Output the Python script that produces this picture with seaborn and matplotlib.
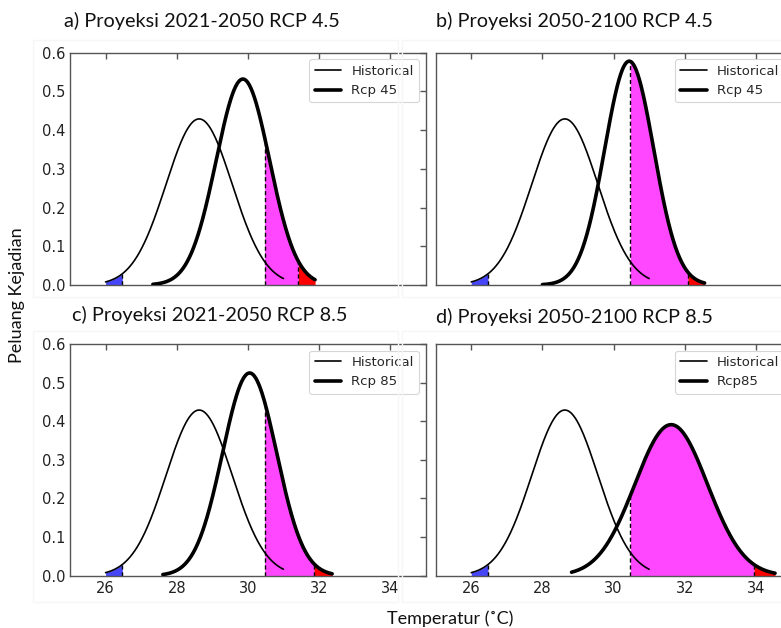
import numpy as np
import pandas as pd
import matplotlib
matplotlib.use("Agg")
import matplotlib.pyplot as plt
from matplotlib.ticker import FormatStrFormatter
from matplotlib.patches import Rectangle
import seaborn as sns

# ---------------- data ----------------
panel_titles = ["a) Proyeksi 2021-2050 RCP 4.5", "b) Proyeksi 2050-2100 RCP 4.5",
                "c) Proyeksi 2021-2050 RCP 8.5", "d) Proyeksi 2050-2100 RCP 8.5"]
proj_labels = ["Rcp 45", "Rcp 45", "Rcp 85", "Rcp85"]
hist_label = "Historical"

hist_mean = 28.63
hist_sd = 0.93
hist_start = 26.0
hist_end = 31.0
cold_limit = 26.47
hot_threshold = 30.47

proj_mean = [29.86, 30.44, 30.05, 31.62]
proj_sd = [0.75, 0.69, 0.76, 1.02]
proj_start = [27.33, 28.0, 27.61, 28.82]
proj_end = [31.89, 32.56, 32.37, 34.54]
extreme_start = [31.42, 32.09, 31.86, 33.95]

x_ticks = [26, 28, 30, 32, 34]
y_ticks = [0.0, 0.1, 0.2, 0.3, 0.4, 0.5, 0.6]
x_label = "Temperatur (\u02daC)"
y_label = "Peluang Kejadian"

# ---------------- style ----------------
sns.set_style("white")
plt.rcParams["font.family"] = ["DejaVu Sans"]
TXT = ["Lato", "DejaVu Sans"]

W, H = 781, 628
fig = plt.figure(figsize=(W / 100, H / 100), dpi=100)


def px_axes(l, t, r, b):
    return fig.add_axes([l / W, 1 - b / H, (r - l) / W, (b - t) / H])


def pdf(x, m, s):
    return np.exp(-0.5 * ((x - m) / s) ** 2) / (s * np.sqrt(2 * np.pi))


# faint frames of the pasted images
for (l, t, r, b) in [(33, 40, 398, 297), (402, 40, 790, 297),
                     (33, 331, 398, 602), (402, 331, 790, 602)]:
    fig.patches.append(Rectangle((l / W, 1 - b / H), (r - l) / W, (b - t) / H,
                                 transform=fig.transFigure, fill=False,
                                 edgecolor="#f6f6f6", lw=1, zorder=0))

boxes = [(70, 52.7, 425.7, 285), (435.7, 52.7, 791.4, 285),
         (70, 344, 425.7, 575.7), (435.7, 344, 791.4, 575.7)]
title_pos = [(64, 26.7), (435.7, 26.7), (72, 320.7), (435.7, 322.7)]

BLUE = "#4646f8"
MAGENTA = "#ff47ff"
RED = "#ff0000"

for i in range(4):
    ax = px_axes(*boxes[i])
    xh = np.linspace(hist_start, hist_end, 300)
    xp = np.linspace(proj_start[i], proj_end[i], 300)
    dh = pd.DataFrame({"x": xh, "y": pdf(xh, hist_mean, hist_sd)})
    dp = pd.DataFrame({"x": xp, "y": pdf(xp, proj_mean[i], proj_sd[i])})

    # fills
    xb = np.linspace(hist_start, cold_limit, 50)
    ax.fill_between(xb, 0, pdf(xb, hist_mean, hist_sd), color=BLUE, lw=0, zorder=1)
    xm = np.linspace(hot_threshold, extreme_start[i], 200)
    ax.fill_between(xm, 0, pdf(xm, proj_mean[i], proj_sd[i]), color=MAGENTA, lw=0, zorder=1)
    xr = np.linspace(extreme_start[i], proj_end[i], 80)
    ax.fill_between(xr, 0, pdf(xr, proj_mean[i], proj_sd[i]), color=RED, lw=0, zorder=1)

    # dashed boundaries
    for xv, yv in [(cold_limit, pdf(cold_limit, hist_mean, hist_sd)),
                   (hot_threshold, pdf(hot_threshold, proj_mean[i], proj_sd[i])),
                   (extreme_start[i], pdf(extreme_start[i], proj_mean[i], proj_sd[i]))]:
        ax.vlines(xv, 0, yv, colors="k", linestyles=(0, (3, 2)), lw=1.0, zorder=2)

    sns.lineplot(data=dh, x="x", y="y", ax=ax, color="k", lw=1.2,
                 label=hist_label, zorder=3, sort=False)
    sns.lineplot(data=dp, x="x", y="y", ax=ax, color="k", lw=2.6,
                 label=proj_labels[i], zorder=3, sort=False)

    ax.set_xlim(25, 35)
    ax.set_ylim(0, 0.6)
    ax.set_xticks(x_ticks)
    ax.set_yticks(y_ticks)
    ax.yaxis.set_major_formatter(FormatStrFormatter("%.1f"))
    ax.set_xlabel("")
    ax.set_ylabel("")
    ax.tick_params(direction="in", length=4, width=1, top=True, right=True,
                   labelsize=10.5, colors="#555555", labelcolor="#222222")
    if i < 2:
        ax.tick_params(labelbottom=False)
    if i % 2 == 1:
        ax.tick_params(labelleft=False)
    for sp in ax.spines.values():
        sp.set_color("#555555")
        sp.set_linewidth(1.0)
        sp.set_visible(True)

    leg = ax.legend(loc="upper right", fontsize=9.5, frameon=True, fancybox=True,
                    borderaxespad=0.5, handlelength=2.0)
    leg.get_frame().set_edgecolor("#cccccc")
    leg.get_frame().set_linewidth(0.8)

    tx, ty = title_pos[i]
    fig.text(tx / W, 1 - ty / H, panel_titles[i], family=TXT, fontsize=14.3,
             color="#111111", ha="left", va="baseline")

fig.text(17.5 / W, 1 - 295.5 / H, y_label, family=TXT, fontsize=13, rotation=90,
         ha="center", va="center", color="#111111")
fig.text(450 / W, 1 - 624 / H, x_label, family=TXT, fontsize=13,
         ha="center", va="baseline", color="#111111")

fig.savefig("out.png", dpi=100)
